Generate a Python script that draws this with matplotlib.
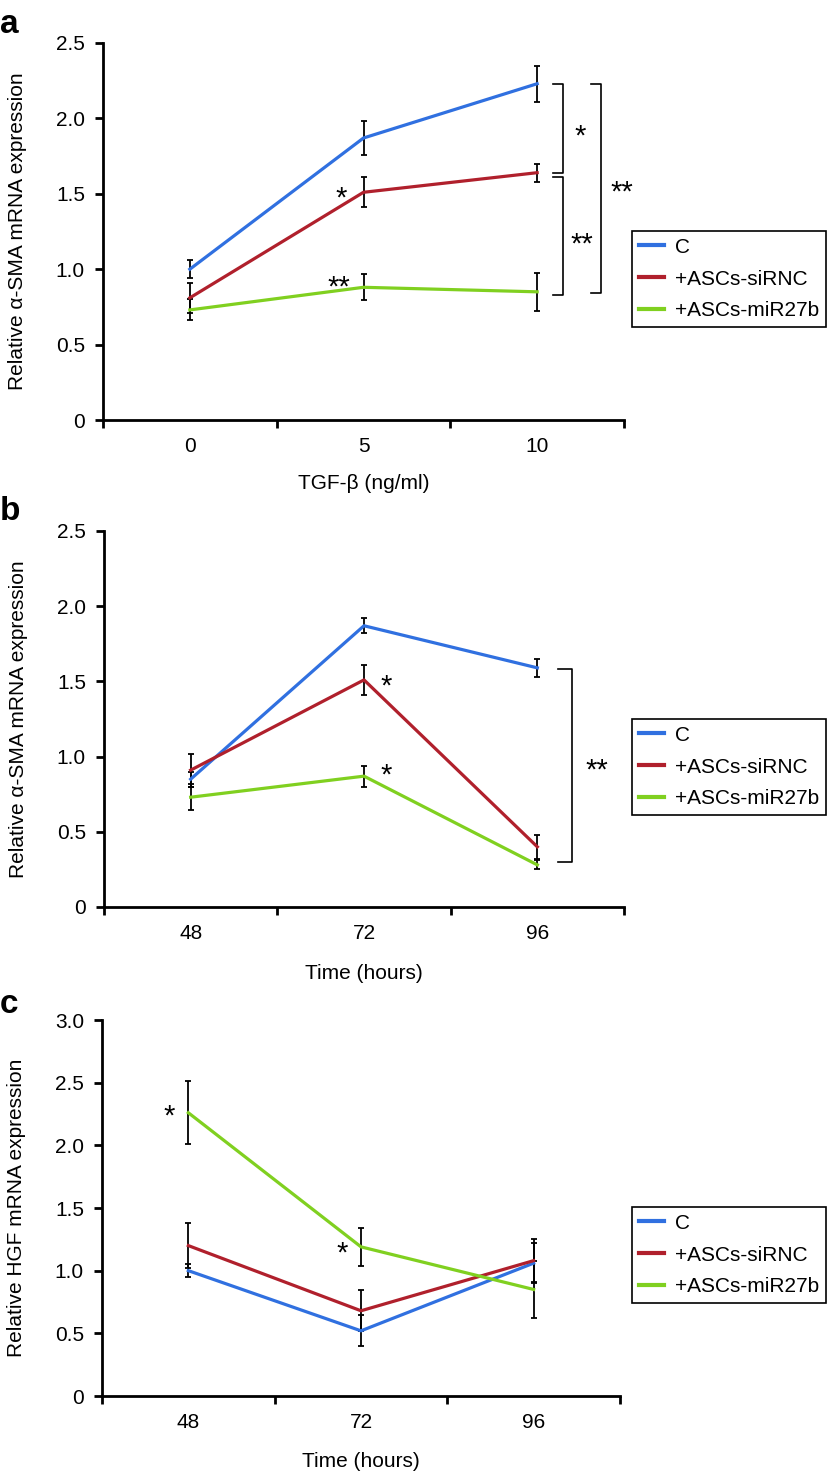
import numpy as np
import matplotlib.pyplot as plt
from matplotlib.ticker import FuncFormatter

plt.rcParams['font.family'] = ['Liberation Sans', 'DejaVu Sans']

groups = ['C', '+ASCs-siRNC', '+ASCs-miR27b']
colors = ['#3070e0', '#b0202c', '#80d020']

# a: alpha-SMA vs TGF-beta dose
tgf_doses = ['0', '5', '10']
sma_tgf_mean = [[1.00, 1.87, 2.23],
                [0.81, 1.51, 1.64],
                [0.73, 0.88, 0.85]]
sma_tgf_err = [[0.06, 0.11, 0.12],
               [0.10, 0.10, 0.06],
               [0.07, 0.085, 0.125]]

# b: alpha-SMA vs time
hours = ['48', '72', '96']
sma_time_mean = [[0.85, 1.87, 1.59],
                 [0.91, 1.51, 0.40],
                 [0.73, 0.87, 0.28]]
sma_time_err = [[0.05, 0.05, 0.06],
                [0.11, 0.10, 0.08],
                [0.085, 0.07, 0.03]]

# c: HGF vs time
hgf_mean = [[1.00, 0.52, 1.06],
            [1.20, 0.68, 1.08],
            [2.26, 1.19, 0.85]]
hgf_err = [[0.05, 0.125, 0.16],
           [0.18, 0.165, 0.17],
           [0.25, 0.15, 0.23]]

W, H = 829, 1472
fig = plt.figure(figsize=(W / 100, H / 100), dpi=100)
FS = 15


def axes_px(left, right, top, bottom):
    return fig.add_axes([left / W, 1 - bottom / H, (right - left) / W, (bottom - top) / H])


def draw_panel(ax, cats, means, errs, ymax, xlabel, ylabel, xlab_y):
    x = np.arange(len(cats))
    for m, e, c, g in zip(means, errs, colors, groups):
        ax.errorbar(x, m, yerr=e, fmt='none', ecolor='black', elinewidth=1.3,
                    capsize=2.5, capthick=1.3, zorder=2, clip_on=False)
        ax.plot(x, m, color=c, lw=2.3, label=g, zorder=3, clip_on=False)
    ax.set_xlim(-0.5, len(cats) - 0.5)
    ax.set_ylim(0, ymax)
    ax.set_yticks(np.arange(0, ymax + 0.01, 0.5))
    ax.yaxis.set_major_formatter(FuncFormatter(lambda v, p: '0' if v == 0 else f'{v:.1f}'))
    ax.set_xticks(np.arange(-0.5, len(cats), 1.0))
    ax.set_xticklabels([])
    ax.set_xticks(x, minor=True)
    ax.set_xticklabels(cats, minor=True)
    ax.tick_params(axis='x', which='major', length=6, width=2, direction='out')
    ax.tick_params(axis='x', which='minor', length=0, pad=12, labelsize=FS)
    ax.tick_params(axis='y', length=6, width=2, pad=7, labelsize=FS)
    for s in ['top', 'right']:
        ax.spines[s].set_visible(False)
    for s in ['left', 'bottom']:
        ax.spines[s].set_linewidth(2)
    ax.set_xlabel(xlabel, fontsize=FS)
    ax.set_ylabel(ylabel, fontsize=FS)
    ax.xaxis.set_label_coords(0.5, xlab_y)
    ax.yaxis.set_label_coords(-0.146, 0.5)


def bracket(ax, x0, x1, y0, y1):
    ax.plot([x0, x1, x1, x0], [y0, y0, y1, y1], color='black', lw=1.2, clip_on=False)


def star(ax, x, y, s, fs=21):
    ax.annotate(s, xy=(x, y), xytext=(0, -0.5 * fs), textcoords='offset points',
                ha='center', va='baseline', fontsize=fs, annotation_clip=False)


def legend(ax, top):
    leg = fig.legend(*ax.get_legend_handles_labels(), loc='upper left',
                     bbox_to_anchor=(632 / W, 1 - top / H), borderaxespad=0,
                     fontsize=FS, handlelength=1.2, handletextpad=0.55,
                     labelspacing=0.62, borderpad=0.32, fancybox=False,
                     edgecolor='black', framealpha=1)
    leg.get_frame().set_linewidth(1.2)
    for h in leg.get_lines():
        h.set_linewidth(3)


# panel a
ax_a = axes_px(103, 624, 43, 420)
draw_panel(ax_a, tgf_doses, sma_tgf_mean, sma_tgf_err, 2.5,
           'TGF-β (ng/ml)', 'Relative α-SMA mRNA expression', -0.143)
star(ax_a, 0.87, sma_tgf_mean[1][1], '*')
star(ax_a, 0.86, 0.92, '**')
bracket(ax_a, 2.09, 2.15, sma_tgf_mean[0][2], sma_tgf_mean[1][2])
bracket(ax_a, 2.09, 2.15, 1.61, 0.83)
bracket(ax_a, 2.31, 2.37, sma_tgf_mean[0][2], 0.84)
star(ax_a, 2.25, 1.92, '*')
star(ax_a, 2.26, 1.21, '**')
star(ax_a, 2.49, 1.55, '**')
legend(ax_a, 231)

# panel b
ax_b = axes_px(104, 624, 531, 907)
draw_panel(ax_b, hours, sma_time_mean, sma_time_err, 2.5,
           'Time (hours)', 'Relative α-SMA mRNA expression', -0.152)
star(ax_b, 1.13, sma_time_mean[1][1], '*')
star(ax_b, 1.13, 0.92, '*')
bracket(ax_b, 2.12, 2.20, 1.58, 0.30)
star(ax_b, 2.345, 0.95, '**')
legend(ax_b, 719)

# panel c
ax_c = axes_px(102, 620, 1020, 1396)
draw_panel(ax_c, hours, hgf_mean, hgf_err, 3.0,
           'Time (hours)', 'Relative HGF mRNA expression', -0.150)
star(ax_c, -0.11, 2.28, '*')
star(ax_c, 0.89, 1.19, '*')
legend(ax_c, 1207)

for lbl, ypx in [('a', 33), ('b', 520), ('c', 1013)]:
    fig.text(0, 1 - ypx / H, lbl, fontsize=24, fontweight='bold', va='baseline', ha='left')

fig.savefig('out.png', dpi=100)
